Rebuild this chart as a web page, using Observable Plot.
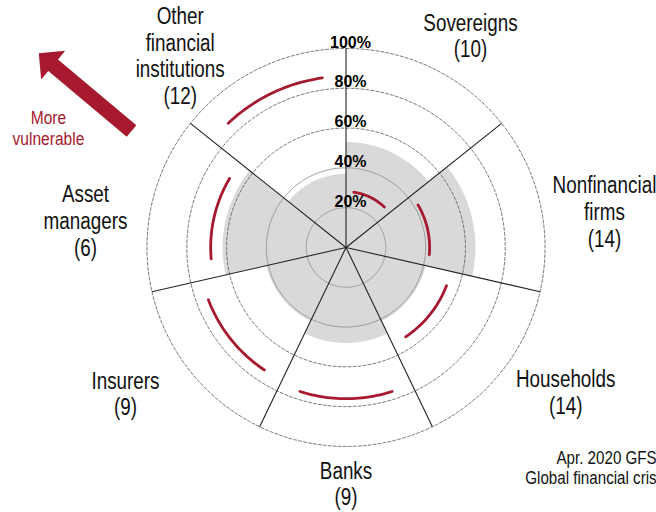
<!DOCTYPE html>
<html>
<head>
<meta charset="utf-8">
<script src="https://cdn.jsdelivr.net/npm/d3@7"></script>
<script src="https://cdn.jsdelivr.net/npm/@observablehq/plot@0.6"></script>
<style>
  html, body { margin: 0; padding: 0; background: #fff; overflow: hidden; }
  #chart svg { display: block; }
</style>
</head>
<body>
<div id="chart"></div>
<script>
// ---- data ----
const categories = ["Sovereigns", "Nonfinancial\nfirms", "Households", "Banks", "Insurers", "Asset\nmanagers", "Other\nfinancial\ninstitutions"];
const counts = [10, 14, 14, 9, 9, 6, 12];
const apr2020 = [53, 65, 41, 48, 41, 62, 37];   // Apr. 2020 GFSR (gray)
const gfc = [28, 42, 54, 76, 74, 68, 86];       // Global financial crisis (red arcs)
const tickValues = [20, 40, 60, 80, 100];
const tickLabels = ["20%", "40%", "60%", "80%", "100%"];
const legendLabels = ["Apr. 2020 GFSR", "Global financial crisis"];

// ---- layout ----
const sans = "'Liberation Sans', Arial, sans-serif";
const red = "#a6192e";
const n = categories.length;
const step = 360 / n;
const rad = d => d * Math.PI / 180;
const px = (a, r) => r * Math.sin(rad(a));
const py = (a, r) => r * Math.cos(rad(a));
// label placement (angle deg clockwise from top, radius in %)
const labelPlace = [[30.4, 123.6], [82.1, 131.1], [123.4, 132.2], [180, 118.6], [236.5, 132.9], [275.9, 131.6], [319.2, 127.5]];

// gray sectors
const sectors = [];
apr2020.forEach((v, i) => {
  sectors.push({i, x: 0, y: 0});
  for (let k = 0; k <= 40; k++) {
    const a = i * step + step * k / 40;
    sectors.push({i, x: px(a, v), y: py(a, v)});
  }
});
// grid circles
const circles = [];
tickValues.forEach(t => {
  for (let k = 0; k <= 360; k++) circles.push({t, x: px(k, t), y: py(k, t)});
});
// red arcs
const pad = step * 0.155;
const arcs = [];
gfc.forEach((v, i) => {
  const a0 = i * step + pad, a1 = (i + 1) * step - pad;
  for (let k = 0; k <= 30; k++) {
    const a = a0 + (a1 - a0) * k / 30;
    arcs.push({i, x: px(a, v), y: py(a, v)});
  }
});
const spokes = d3.range(n).map(i => ({a: i * step}));
const labels = categories.map((c, i) => ({
  text: c + "\n(" + counts[i] + ")",
  x: px(labelPlace[i][0], labelPlace[i][1]),
  y: py(labelPlace[i][0], labelPlace[i][1])
}));
const tickData = tickValues.map((t, i) => ({t, label: tickLabels[i]}));

// block-arrow symbol (points up)
const blockArrow = {
  draw(ctx) {
    ctx.moveTo(0, -60.5);
    ctx.lineTo(18.7, -41.8);
    ctx.lineTo(7.5, -41.8);
    ctx.lineTo(7.5, 60.5);
    ctx.lineTo(-7.5, 60.5);
    ctx.lineTo(-7.5, -41.8);
    ctx.lineTo(-18.7, -41.8);
    ctx.closePath();
  }
};

const chart = Plot.plot({
  width: 656,
  height: 512,
  margin: 0,
  x: {domain: [-173.6, 156.0], axis: null},
  y: {domain: [-133.2, 124.1], axis: null},
  style: {background: "#fff", fontFamily: sans, color: "#000"},
  marks: [
    Plot.line(sectors, {x: "x", y: "y", z: "i", fill: "#d9d9d9", stroke: "none", curve: "linear-closed"}),
    Plot.line(circles.filter(d => d.t <= 40), {x: "x", y: "y", z: "t", stroke: "#9a9a9a", strokeWidth: 1}),
    Plot.line(circles.filter(d => d.t > 40), {x: "x", y: "y", z: "t", stroke: "#555", strokeWidth: 0.8, strokeDasharray: "3,2"}),
    Plot.link(spokes, {x1: () => 0, y1: () => 0, x2: d => px(d.a, 100), y2: d => py(d.a, 100), stroke: "#222", strokeWidth: 1.1}),
    Plot.line(arcs, {x: "x", y: "y", z: "i", stroke: red, strokeWidth: 2.8, strokeLinecap: "round"}),
    Plot.text(tickData, {x: () => 0, y: "t", text: "label", dx: 4.5, dy: -6, fontWeight: "bold", fontSize: 16, fill: "#000"}),
    Plot.text(labels, {x: "x", y: "y", text: "text", fontSize: 23, lineHeight: 1.16, lineAnchor: "middle", fill: "#111"}),
    Plot.dot([{x: -131.06, y: 78.1}], {x: "x", y: "y", symbol: blockArrow, r: 5, fill: red, stroke: "none", rotate: -50}),
    Plot.text(["More\nvulnerable"], {x: () => -149.5, y: () => 60, text: d => d, fontSize: 19, lineHeight: 1.1, fill: red}),
    Plot.text([legendLabels.join("\n")], {x: () => 161.6, y: () => -110.5, text: d => d, textAnchor: "end", fontSize: 18.5, lineHeight: 1.13, fill: "#111"})
  ]
});

// Arial-Narrow look: condense the regular-weight texts horizontally around their anchor
chart.querySelectorAll("g[aria-label='text']").forEach(g => {
  if (g.getAttribute("font-weight") === "bold") return;
  g.querySelectorAll("text").forEach(t => {
    const tr = t.getAttribute("transform");
    if (tr) {
      t.setAttribute("transform", tr + " scale(0.82,1)");
    } else {
      const x = +(t.getAttribute("x") || 0), y = +(t.getAttribute("y") || 0);
      t.removeAttribute("x"); t.removeAttribute("y");
      t.setAttribute("transform", `translate(${x},${y}) scale(0.82,1)`);
    }
  });
});
document.getElementById("chart").appendChild(chart);
</script>
</body>
</html>
